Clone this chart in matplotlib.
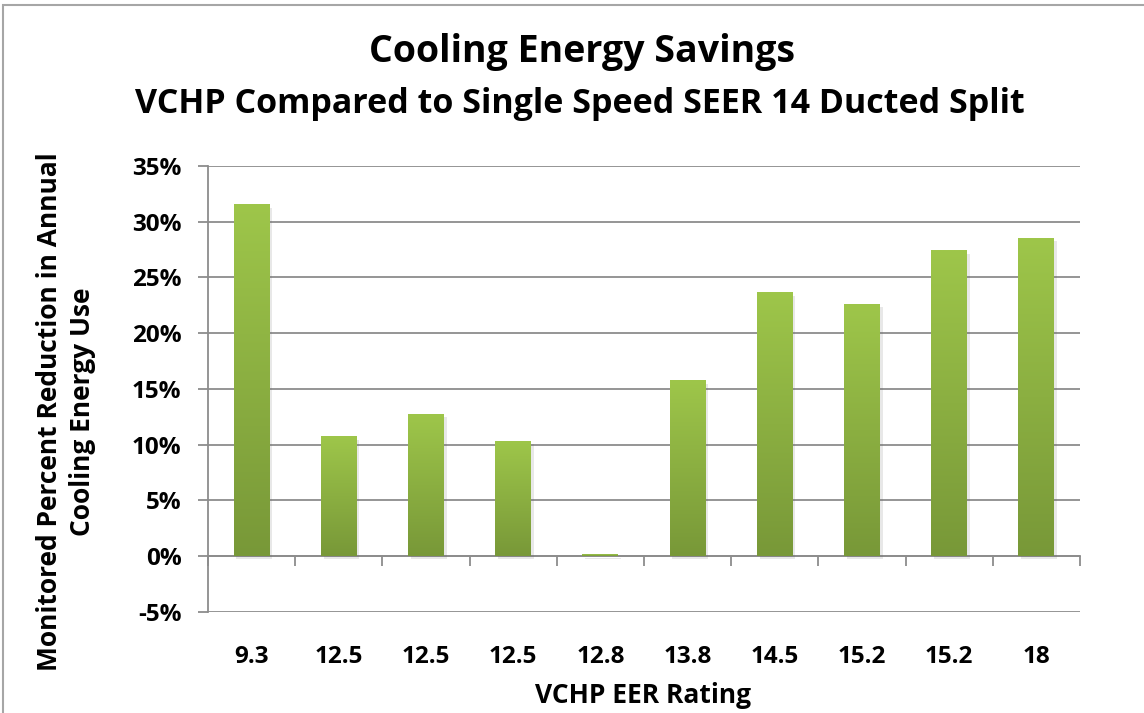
import numpy as np
import matplotlib
matplotlib.use("Agg")
from matplotlib import pyplot as plt
from matplotlib import patheffects as pe
from matplotlib.colors import LinearSegmentedColormap
from matplotlib.patches import Rectangle

plt.rcParams['font.family'] = ['Open Sans', 'DejaVu Sans']
plt.rcParams['font.weight'] = 'bold'

# data
eer_labels = ['9.3', '12.5', '12.5', '12.5', '12.8', '13.8', '14.5', '15.2', '15.2', '18']
savings = [0.315, 0.107, 0.127, 0.103, 0.001, 0.157, 0.236, 0.226, 0.274, 0.285]
y_ticks = [-0.05, 0, 0.05, 0.10, 0.15, 0.20, 0.25, 0.30, 0.35]

fig = plt.figure(figsize=(11.44, 7.13), dpi=100)
ax = fig.add_axes([0.1818, 0.1417, 0.7622, 0.6255])

x = np.arange(len(savings))
bar_w = 0.41
bars = ax.bar(x, savings, width=bar_w, color='#8cb443', zorder=3,
              path_effects=[pe.SimplePatchShadow(offset=(2, -2), shadow_rgbFace='#666666', alpha=0.15),
                            pe.Normal()])

# vertical gradient on each bar
cmap = LinearSegmentedColormap.from_list('grn', ['#789838', '#9ec64a'])
grad = np.linspace(0, 1, 256).reshape(-1, 1)
for b in bars:
    bx, by = b.get_x(), b.get_y()
    bw, bh = b.get_width(), b.get_height()
    if bh <= 0:
        continue
    ax.imshow(grad, cmap=cmap, origin='lower', aspect='auto',
              extent=(bx, bx + bw, by, by + bh), zorder=4)

ax.set_xlim(-0.5, len(savings) - 0.5)
ax.set_ylim(-0.05, 0.35)

ax.set_yticks(y_ticks)
ax.set_yticklabels(['%d%%' % round(v * 100) for v in y_ticks], fontsize=17.5, fontweight='bold')
ax.yaxis.grid(True, color='#8c8c8c', linewidth=1.3, zorder=0)
ax.set_axisbelow(True)
ax.tick_params(axis='y', length=7, width=1.3, color='#8c8c8c', pad=12)

# category axis crosses at 0
ax.spines['bottom'].set_position(('data', 0))
ax.spines['bottom'].set_color('#8c8c8c')
ax.spines['bottom'].set_linewidth(1.3)
ax.spines['left'].set_color('#8c8c8c')
ax.spines['left'].set_linewidth(1.3)
ax.spines['top'].set_visible(False)
ax.spines['right'].set_visible(False)

ax.set_xticks(x)
ax.set_xticklabels(eer_labels, fontsize=17.5, fontweight='bold')
ax.tick_params(axis='x', which='major', length=0, pad=64)
ax.set_xticks(np.arange(len(savings) + 1) - 0.5, minor=True)
ax.tick_params(axis='x', which='minor', length=7, width=1.3, color='#8c8c8c')

fig.text(0.562, 0.025, 'VCHP EER Rating', ha='center', va='center', fontsize=19, fontweight='bold')
fig.text(0.0575, 0.422, 'Monitored Percent Reduction in Annual\nCooling Energy Use', rotation=90,
         ha='center', va='center', fontsize=19, fontweight='bold', linespacing=1.3)

fig.text(0.509, 0.927, 'Cooling Energy Savings', ha='center', va='center', fontsize=27, fontweight='bold')
fig.text(0.507, 0.854, 'VCHP Compared to Single Speed SEER 14 Ducted Split', ha='center', va='center',
         fontsize=24.5, fontweight='bold')

# outer chart border
fig.patches.append(Rectangle((3 / 1144, -0.05), 1.2, 1.05 - 5 / 713, transform=fig.transFigure,
                             fill=False, edgecolor='#a6a6a6', linewidth=1.5))

fig.savefig('out.png', dpi=100)
